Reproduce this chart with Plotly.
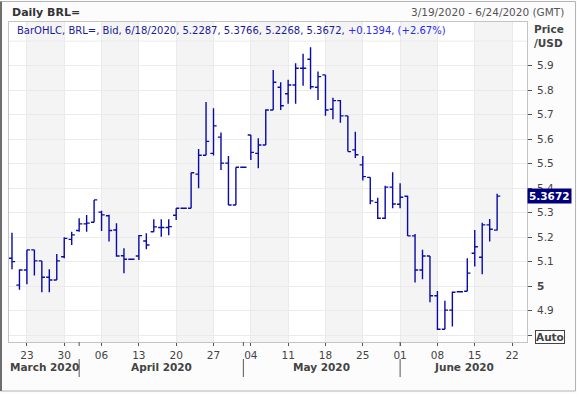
import plotly.graph_objects as go
import pandas as pd

# ---------------- data ----------------
dates = pd.bdate_range("2020-03-19", "2020-06-18")        # trading days shown
axis_days = pd.bdate_range("2020-03-19", "2020-06-24")    # axis span

opens = [5.114, 5.004, 5.066, 5.148, 5.103, 5.036, 5.025, 5.120, 5.191, 5.227,
         5.254, 5.261, 5.302, 5.287, 5.229, 5.124, 5.110, 5.123, 5.184, 5.222,
         5.239, 5.239, 5.289, 5.318, 5.318, 5.457, 5.534, 5.542, 5.608, 5.502,
         5.331, 5.485, 5.617, 5.542, 5.576, 5.719, 5.812, 5.785, 5.821, 5.889,
         5.926, 5.812, 5.862, 5.722, 5.757, 5.695, 5.556, 5.495, 5.444, 5.342,
         5.277, 5.404, 5.334, 5.367, 5.205, 5.066, 5.123, 4.961, 4.824, 4.902,
         4.977, 4.979, 5.134, 5.118, 5.250, 5.2287]
highs = [5.218, 5.069, 5.148, 5.148, 5.103, 5.069, 5.131, 5.200, 5.222, 5.277,
         5.290, 5.352, 5.308, 5.291, 5.257, 5.155, 5.110, 5.209, 5.216, 5.273,
         5.273, 5.273, 5.318, 5.320, 5.463, 5.560, 5.751, 5.726, 5.627, 5.531,
         5.485, 5.485, 5.617, 5.604, 5.722, 5.882, 5.832, 5.842, 5.910, 5.948,
         5.975, 5.876, 5.862, 5.769, 5.760, 5.695, 5.630, 5.531, 5.444, 5.361,
         5.410, 5.465, 5.420, 5.369, 5.213, 5.148, 5.123, 4.980, 4.940, 4.978,
         4.977, 5.114, 5.229, 5.259, 5.274, 5.3766]
lows = [5.069, 4.985, 5.008, 5.043, 4.975, 4.975, 5.025, 5.114, 5.168, 5.222,
        5.222, 5.261, 5.225, 5.182, 5.120, 5.053, 5.110, 5.107, 5.151, 5.222,
        5.202, 5.208, 5.270, 5.316, 5.318, 5.400, 5.534, 5.533, 5.474, 5.331,
        5.331, 5.485, 5.515, 5.481, 5.576, 5.719, 5.719, 5.744, 5.744, 5.818,
        5.804, 5.760, 5.695, 5.681, 5.667, 5.549, 5.523, 5.431, 5.334, 5.274,
        5.274, 5.318, 5.318, 5.205, 5.015, 5.028, 4.934, 4.821, 4.824, 4.835,
        4.977, 4.979, 5.080, 5.048, 5.182, 5.2268]
closes = [5.100, 5.066, 5.148, 5.103, 5.036, 5.025, 5.103, 5.195, 5.209, 5.254,
          5.257, 5.352, 5.291, 5.227, 5.123, 5.110, 5.110, 5.206, 5.168, 5.242,
          5.239, 5.243, 5.318, 5.318, 5.463, 5.534, 5.591, 5.654, 5.502, 5.331,
          5.485, 5.485, 5.546, 5.576, 5.719, 5.832, 5.736, 5.821, 5.889, 5.889,
          5.814, 5.855, 5.719, 5.757, 5.695, 5.549, 5.536, 5.447, 5.348, 5.277,
          5.404, 5.335, 5.363, 5.205, 5.066, 5.123, 4.961, 4.824, 4.902, 4.975,
          4.977, 5.053, 5.161, 5.250, 5.232, 5.3672]

tick_dates = ["2020-03-23", "2020-03-30", "2020-04-06", "2020-04-13", "2020-04-20",
              "2020-04-27", "2020-05-04", "2020-05-11", "2020-05-18", "2020-05-25",
              "2020-06-01", "2020-06-08", "2020-06-15", "2020-06-22"]
tick_labels = ["23", "30", "06", "13", "20", "27", "04", "11", "18", "25",
               "01", "08", "15", "22"]
month_names = ["March 2020", "April 2020", "May 2020", "June 2020"]
month_starts = ["2020-04-01", "2020-05-01", "2020-06-01"]

y_ticks = [4.8, 4.9, 5.0, 5.1, 5.2, 5.3, 5.4, 5.5, 5.6, 5.7, 5.8, 5.9]
y_labels = ["", "4.9", "<b>5</b>", "5.1", "5.2", "5.3", "5.4", "5.5", "5.6", "5.7", "5.8", "5.9"]

legend_main = "BarOHLC, BRL=, Bid, 6/18/2020, 5.2287, 5.3766, 5.2268, 5.3672, "
legend_chg = "+0.1394, (+2.67%)"
last_close = closes[-1]

# ---------------- layout helpers ----------------
W, H = 577, 394
ML, MR, MT, MB = 9, 50, 22, 52
PW, PH = W - ML - MR, H - MT - MB


def px(x):
    return (x - ML) / PW


def py(y):
    return (H - MB - y) / PH


FONT = "DejaVu Sans"
BAR = "#0A0AA8"
TXT = "#444444"

x_idx = list(range(len(dates)))
pos = {d: i for i, d in enumerate(axis_days)}
tickvals = [pos[pd.Timestamp(d)] for d in tick_dates]
sep_vals = [pos[pd.Timestamp(d)] for d in month_starts]
x_lo, x_hi = -0.4, len(axis_days) - 1.0

fig = go.Figure()
fig.add_trace(go.Ohlc(
    x=x_idx, open=opens, high=highs, low=lows, close=closes,
    increasing=dict(line=dict(color=BAR, width=1.4)),
    decreasing=dict(line=dict(color=BAR, width=1.4)),
    tickwidth=0.42, showlegend=False, hoverinfo="skip",
))

shapes = []
# alternating weekly bands
for i, tv in enumerate(tickvals):
    if i % 2 == 0:
        shapes.append(dict(type="rect", xref="x", yref="paper", x0=tv, x1=min(tv + 5, x_hi),
                           y0=0, y1=1, fillcolor="#F4F4F4", line=dict(width=0), layer="below"))
# gridline at 6.0
shapes.append(dict(type="line", xref="paper", yref="y", x0=0, x1=1, y0=6.0, y1=6.0,
                   line=dict(color="#EBEBEB", width=1), layer="below"))
# month boundary ticks and separators
for sv in sep_vals:
    shapes.append(dict(type="line", xref="x", yref="paper", x0=sv, x1=sv,
                       y0=py(342), y1=py(346), line=dict(color="#555555", width=1)))
    shapes.append(dict(type="line", xref="x", yref="paper", x0=sv, x1=sv,
                       y0=py(359), y1=py(377), line=dict(color="#555555", width=1)))
# outer frame
shapes.append(dict(type="rect", xref="paper", yref="paper", x0=px(0.5), x1=px(575.5),
                   y0=py(391), y1=py(1.5), line=dict(color="#B4B4B4", width=1)))
shapes.append(dict(type="line", xref="paper", yref="paper", x0=px(1), x1=px(1),
                   y0=py(391), y1=py(1.5), line=dict(color="#6E6E6E", width=2)))

annotations = [
    dict(text="<b>Daily BRL=</b>", x=px(10), y=py(12), xref="paper", yref="paper",
         xanchor="left", yanchor="middle", showarrow=False, font=dict(family=FONT, size=11, color="#333333")),
    dict(text="3/19/2020 - 6/24/2020 (GMT)", x=px(566), y=py(12), xref="paper", yref="paper",
         xanchor="right", yanchor="middle", showarrow=False, font=dict(family=FONT, size=10.5, color="#555555")),
    dict(text=f"<span style='color:#1A1A9C'>{legend_main}</span><span style='color:#2A2AF0'>{legend_chg}</span>",
         x=px(15), y=py(31), xref="paper", yref="paper", xanchor="left", yanchor="middle",
         showarrow=False, font=dict(family=FONT, size=10)),
    dict(text="<b>Price<br>/USD</b>", x=px(532), y=py(36), xref="paper", yref="paper",
         xanchor="left", yanchor="middle", align="left", showarrow=False,
         font=dict(family=FONT, size=10.5, color="#444444")),
    dict(text="<b>Auto</b>", x=px(535), y=py(337), xref="paper", yref="paper",
         xanchor="left", yanchor="middle", showarrow=False, bordercolor="#444444", borderwidth=1,
         borderpad=0, font=dict(family=FONT, size=10.5, color="#444444")),
    dict(text=f"<b>{last_close:.4f}</b>", x=px(527), y=last_close, xref="paper", yref="y",
         xanchor="left", yanchor="middle", showarrow=False, bgcolor="#00007A", borderpad=1,
         font=dict(family=FONT, size=10.5, color="#FFFFFF")),
]
# month labels centred on their visible span
bounds = [x_lo] + sep_vals + [x_hi]
for name, a, b in zip(month_names, bounds[:-1], bounds[1:]):
    annotations.append(dict(text=f"<b>{name}</b>", x=(a + b) / 2, y=py(367), xref="x", yref="paper",
                            xanchor="center", yanchor="middle", showarrow=False,
                            font=dict(family=FONT, size=10.5, color=TXT)))

fig.update_layout(
    width=W, height=H, margin=dict(l=ML, r=MR, t=MT, b=MB),
    paper_bgcolor="#FCFCFC", plot_bgcolor="#FFFFFF",
    shapes=shapes, annotations=annotations,
    xaxis=dict(range=[x_lo, x_hi], tickmode="array", tickvals=tickvals, ticktext=tick_labels,
               showgrid=True, gridcolor="#EBEBEB", zeroline=False,
               ticks="outside", ticklen=3, tickcolor="#555555",
               showline=True, linecolor="#C4C4C4", mirror=True,
               tickfont=dict(family=FONT, size=10.5, color=TXT),
               rangeslider=dict(visible=False), fixedrange=True),
    yaxis=dict(side="right", range=[4.772, 6.078], tickmode="array", tickvals=y_ticks, ticktext=y_labels,
               showgrid=True, gridcolor="#EBEBEB", zeroline=False,
               ticks="outside", ticklen=4, tickcolor="#555555", ticklabelstandoff=3,
               showline=True, linecolor="#C4C4C4", mirror=True,
               tickfont=dict(family=FONT, size=10.5, color=TXT), fixedrange=True),
)

fig.write_html("out.html", config={"displayModeBar": False},
               post_script="document.body.style.margin='0';document.body.style.overflow='hidden';")
